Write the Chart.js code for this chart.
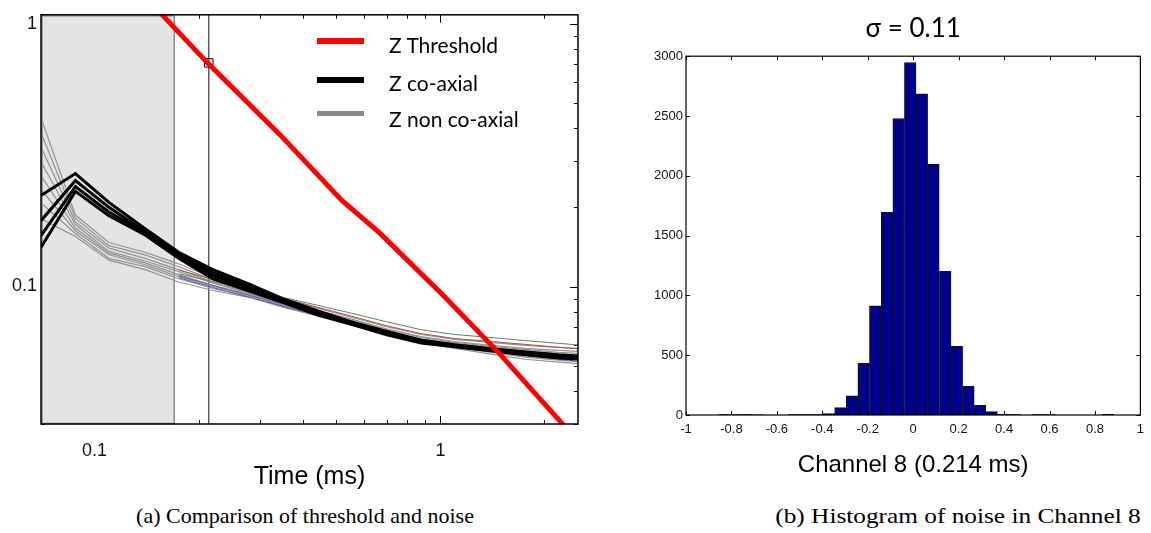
<!DOCTYPE html>
<html lang="en">
<head>
<meta charset="UTF-8">
<title>Threshold and noise</title>
<script src="https://cdn.jsdelivr.net/npm/chart.js"></script>
<style>
  body { margin: 0; width: 1151px; height: 533px; background: #fff; position: relative; overflow: hidden; }
  #left { position: absolute; left: 0; top: 0; }
  #right { position: absolute; left: 620px; top: 0; }
  .key { position: absolute; left: 317px; width: 47px; }
  .keytext { position: absolute; left: 389px; font-family: Lato, sans-serif; font-size: 21px; line-height: 24px; color: #000; white-space: nowrap; }
  .caption { position: absolute; top: 503px; font-family: "Liberation Serif", "Times New Roman", serif; font-size: 22px; line-height: 26px; text-align: center; color: #000; white-space: nowrap; }
</style>
</head>
<body>
<canvas id="left" width="600" height="495"></canvas>
<canvas id="right" width="531" height="483"></canvas>

<div class="key" style="top:38px;height:6px;background:#ff0000"></div>
<div class="key" style="top:77px;height:6px;background:#000"></div>
<div class="key" style="top:111px;height:5px;background:#888"></div>
<div class="keytext" style="top:33px">Z Threshold</div>
<div class="keytext" style="top:71px">Z co-axial</div>
<div class="keytext" style="top:107px">Z non co-axial</div>

<div class="caption" style="left:0;width:610px">(a) Comparison of threshold and noise</div>
<div class="caption" style="left:765px;width:386px;transform:scaleX(1.15)">(b) Histogram of noise in Channel 8</div>

<script>
// ---- (a) threshold vs noise, log-log ----
const times = [0.07, 0.088, 0.11, 0.14, 0.175, 0.22, 0.28, 0.35, 0.44, 0.55, 0.7, 0.88, 1.1, 1.4, 1.75, 2.2, 2.8];

const thresholdTimes = [0.15, 0.212, 0.343, 0.518, 0.667, 1.013, 1.48, 2.25, 2.4];
const thresholdZ = [1.15, 0.709, 0.379, 0.213, 0.160, 0.0933, 0.0557, 0.0301, 0.0273];

// co-axial channels
const coaxial = [
  [0.222, 0.269, 0.209, 0.166, 0.135, 0.116, 0.102, 0.090, 0.081, 0.0735, 0.0675, 0.0625, 0.060, 0.058, 0.0565, 0.055, 0.054],
  [0.178, 0.253, 0.200, 0.162, 0.132, 0.113, 0.0995, 0.0885, 0.080, 0.073, 0.067, 0.062, 0.0595, 0.0575, 0.056, 0.0545, 0.0535],
  [0.156, 0.240, 0.192, 0.160, 0.130, 0.110, 0.098, 0.088, 0.079, 0.0725, 0.066, 0.0615, 0.0595, 0.0572, 0.0555, 0.054, 0.053],
  [0.141, 0.230, 0.186, 0.157, 0.128, 0.107, 0.096, 0.087, 0.078, 0.072, 0.0655, 0.061, 0.059, 0.057, 0.055, 0.0535, 0.0525]
];

// non co-axial channels
const nonCoaxial = [
  [0.438, 0.187, 0.147, 0.135, 0.122, 0.108, 0.0974, 0.0895, 0.0828, 0.0766, 0.0703, 0.0657, 0.0629, 0.0613, 0.0597, 0.0587, 0.0577],
  [0.385, 0.182, 0.143, 0.132, 0.119, 0.106, 0.0958, 0.0879, 0.0814, 0.0753, 0.0691, 0.0645, 0.0618, 0.0597, 0.0582, 0.0572, 0.0562],
  [0.339, 0.176, 0.140, 0.128, 0.116, 0.104, 0.0950, 0.0872, 0.0807, 0.0746, 0.0685, 0.0640, 0.0613, 0.0592, 0.0577, 0.0562, 0.0553],
  [0.298, 0.172, 0.136, 0.125, 0.114, 0.103, 0.0942, 0.0864, 0.0800, 0.0740, 0.0679, 0.0634, 0.0608, 0.0587, 0.0567, 0.0553, 0.0543],
  [0.264, 0.167, 0.134, 0.123, 0.111, 0.101, 0.0933, 0.0857, 0.0793, 0.0734, 0.0674, 0.0629, 0.0603, 0.0577, 0.0557, 0.0543, 0.0534],
  [0.234, 0.163, 0.132, 0.121, 0.109, 0.100, 0.0926, 0.0849, 0.0786, 0.0728, 0.0668, 0.0623, 0.0592, 0.0567, 0.0548, 0.0534, 0.0520],
  [0.208, 0.159, 0.128, 0.119, 0.107, 0.0983, 0.0918, 0.0842, 0.0779, 0.0722, 0.0662, 0.0618, 0.0587, 0.0562, 0.0539, 0.0525, 0.0512],
  [0.181, 0.155, 0.126, 0.116, 0.104, 0.0966, 0.0910, 0.0835, 0.0773, 0.0715, 0.0657, 0.0613, 0.0582, 0.0553, 0.0529, 0.0516, 0.0503]
];

// a few non co-axial channels plotted in colour outside the shaded window
const colouredNames = ['green', 'red', 'blue', 'purple'];
const colouredColors = ['#4f8a5f', '#b04a4a', '#5a5ad0', '#8a5a9c'];
const coloured = [
  [null, null, null, null, 0.1118, 0.1044, 0.0974, 0.0910, 0.0849, 0.0793, 0.0734, 0.0685, 0.0657, 0.0640, 0.0623, 0.0608, 0.0592],
  [null, null, null, null, 0.1157, 0.1062, 0.0983, 0.0902, 0.0835, 0.0773, 0.0709, 0.0662, 0.0634, 0.0618, 0.0603, 0.0587, 0.0572],
  [null, null, null, null, 0.1080, 0.0991, 0.0910, 0.0842, 0.0779, 0.0722, 0.0662, 0.0618, 0.0587, 0.0567, 0.0548, 0.0529, 0.0512],
  [null, null, null, null, 0.1099, 0.1009, 0.0926, 0.0857, 0.0793, 0.0734, 0.0674, 0.0629, 0.0597, 0.0577, 0.0557, 0.0539, 0.0520]
];

const shadeFrom = 0.07, shadeTo = 0.17;   // early-time window
const markerTime = 0.214, markerZ = 0.709; // channel 8 time
const leftXRange = [0.07, 2.5], leftYRange = [0.03, 1.08];

// ---- (b) histogram ----
const binCenters = [-0.935, -0.883, -0.832, -0.781, -0.730, -0.679, -0.627, -0.576, -0.525, -0.474, -0.423, -0.371,
  -0.320, -0.269, -0.218, -0.167, -0.115, -0.064, -0.013, 0.038, 0.089, 0.141, 0.192, 0.243, 0.294, 0.345,
  0.397, 0.448, 0.499, 0.550, 0.601, 0.653, 0.704, 0.755, 0.806, 0.857, 0.909];
const binCounts = [0, 0, 3, 4, 3, 2, 0, 0, 3, 4, 4, 12,
  61, 161, 432, 913, 1694, 2479, 2947, 2685, 2095, 1201, 574, 240, 81, 28,
  6, 4, 0, 4, 3, 0, 0, 0, 0, 5, 0];
const sigmaText = 'σ = 0.11';

function pts(xs, ys) { return xs.map((x, i) => ({x: x, y: ys[i]})); }

// log tick kind: 2 = decade, 1 = 2..9 multiple, 0 = skip
function logKind(v) {
  const e = Math.floor(Math.log10(v) + 1e-9);
  const m = v / Math.pow(10, e);
  if (Math.abs(m - Math.round(m)) > 1e-6) return 0;
  return Math.abs(m - 1) < 1e-6 ? 2 : 1;
}
function near(a, b) { return Math.abs(a - b) < 1e-9; }

const leftSets = [];
leftSets.push({ data: pts(thresholdTimes, thresholdZ), borderColor: '#ff0000', borderWidth: 5 });
leftSets.push({ type: 'scatter', data: [{x: markerTime, y: markerZ}], pointStyle: 'rect', pointRadius: 6,
  borderColor: '#000', borderWidth: 1, backgroundColor: 'rgba(0,0,0,0)' });
coaxial.forEach(c => leftSets.push({ data: pts(times, c), borderColor: '#000', borderWidth: 3 }));
coloured.forEach((c, i) => leftSets.push({ label: colouredNames[i], data: pts(times, c), borderColor: colouredColors[i], borderWidth: 1 }));
nonCoaxial.forEach(c => leftSets.push({ data: pts(times, c), borderColor: '#939393', borderWidth: 1.2 }));
leftSets.push({ data: [{x: markerTime, y: leftYRange[0]}, {x: markerTime, y: leftYRange[1]}], borderColor: '#111', borderWidth: 1 });
leftSets.forEach(d => { d.clip = 0; d.pointRadius = d.pointRadius || 0; });

const leftDecor = {
  id: 'leftDecor',
  beforeDatasetsDraw(chart) {
    const {ctx, chartArea: a, scales: {x, y}} = chart;
    ctx.save();
    ctx.strokeStyle = '#000';
    ctx.lineWidth = 1;
    ctx.beginPath();
    x.ticks.forEach(t => {
      const k = logKind(t.value);
      if (!k) return;
      const px = Math.round(x.getPixelForValue(t.value)) + 0.5;
      const len = k === 2 ? 8 : 4;
      ctx.moveTo(px, a.bottom); ctx.lineTo(px, a.bottom - len);
      ctx.moveTo(px, a.top); ctx.lineTo(px, a.top + len);
    });
    y.ticks.forEach(t => {
      const k = logKind(t.value);
      if (!k) return;
      const py = Math.round(y.getPixelForValue(t.value)) + 0.5;
      const len = k === 2 ? 8 : 4;
      ctx.moveTo(a.left, py); ctx.lineTo(a.left + len, py);
      ctx.moveTo(a.right, py); ctx.lineTo(a.right - len, py);
    });
    ctx.stroke();
    const x0 = x.getPixelForValue(shadeFrom), x1 = x.getPixelForValue(shadeTo);
    ctx.fillStyle = '#e4e4e4';
    ctx.fillRect(x0, a.top, x1 - x0, a.bottom - a.top);
    ctx.strokeStyle = '#8a8a8a';
    ctx.lineWidth = 1.5;
    ctx.strokeRect(x0 + 1, a.top + 1, x1 - x0 - 1, a.bottom - a.top - 1.5);
    ctx.restore();
  },
  afterDatasetsDraw(chart) {
    const {ctx, chartArea: a} = chart;
    ctx.save();
    ctx.strokeStyle = '#000';
    ctx.lineWidth = 1.5;
    ctx.strokeRect(a.left, a.top, a.right - a.left, a.bottom - a.top);
    ctx.restore();
  }
};

new Chart(document.getElementById('left'), {
  type: 'line',
  data: { datasets: leftSets },
  options: {
    responsive: false,
    animation: false,
    devicePixelRatio: 1,
    layout: { padding: { top: 8, right: 22, left: 0, bottom: 0 } },
    plugins: { legend: { display: false }, tooltip: { enabled: false } },
    elements: { line: { tension: 0 } },
    scales: {
      x: {
        type: 'logarithmic', min: leftXRange[0], max: leftXRange[1],
        grid: { display: false, drawTicks: false }, border: { display: false },
        ticks: {
          autoSkip: false, maxRotation: 0, padding: 16, color: '#111',
          font: { family: 'Liberation Sans', size: 18 },
          callback: v => near(v, 0.1) ? '0.1' : near(v, 1) ? '1' : ''
        },
        title: { display: true, text: 'Time (ms)', color: '#000', font: { family: 'Liberation Sans', size: 25 }, padding: { top: 0, bottom: 3 } },
        afterFit: s => { s.height = 71; }
      },
      y: {
        type: 'logarithmic', min: leftYRange[0], max: leftYRange[1],
        grid: { display: false, drawTicks: false }, border: { display: false },
        ticks: {
          autoSkip: false, padding: 4, color: '#111',
          font: { family: 'Liberation Sans', size: 18 },
          callback: v => near(v, 0.1) ? '0.1' : near(v, 1) ? '1' : ''
        },
        afterFit: s => { s.width = 41; }
      }
    }
  },
  plugins: [leftDecor]
});

// ---- (b) ----
const rightDecor = {
  id: 'rightDecor',
  afterDatasetsDraw(chart) {
    const {ctx, chartArea: a, scales: {x, y}} = chart;
    ctx.save();
    ctx.strokeStyle = '#000';
    ctx.lineWidth = 1;
    ctx.beginPath();
    x.ticks.forEach(t => {
      const px = Math.round(x.getPixelForValue(t.value)) + 0.5;
      ctx.moveTo(px, a.bottom); ctx.lineTo(px, a.bottom - 4);
      ctx.moveTo(px, a.top); ctx.lineTo(px, a.top + 4);
    });
    y.ticks.forEach(t => {
      const py = Math.round(y.getPixelForValue(t.value)) + 0.5;
      ctx.moveTo(a.left, py); ctx.lineTo(a.left + 4, py);
      ctx.moveTo(a.right, py); ctx.lineTo(a.right - 4, py);
    });
    ctx.stroke();
    ctx.lineWidth = 1.2;
    ctx.strokeRect(a.left, a.top, a.right - a.left, a.bottom - a.top);
    ctx.restore();
  }
};

new Chart(document.getElementById('right'), {
  type: 'bar',
  data: {
    datasets: [{
      data: pts(binCenters, binCounts),
      backgroundColor: '#00008c',
      borderColor: '#111',
      borderWidth: 1,
      barPercentage: 1,
      categoryPercentage: 1
    }]
  },
  options: {
    responsive: false,
    animation: false,
    devicePixelRatio: 1,
    layout: { padding: { top: 0, right: 1, left: 0, bottom: 0 } },
    plugins: {
      legend: { display: false }, tooltip: { enabled: false },
      title: { display: true, fullSize: false, text: sigmaText, color: '#000', font: { family: 'Lato', size: 26, weight: 'normal' }, padding: { top: 13, bottom: 12 } }
    },
    scales: {
      x: {
        type: 'linear', min: -1, max: 1, offset: false,
        grid: { display: false, drawTicks: false }, border: { display: false },
        ticks: {
          stepSize: 0.2, autoSkip: false, maxRotation: 0, padding: 7, color: '#111',
          font: { family: 'Liberation Sans', size: 13 },
          callback: v => Math.abs(v) < 1e-9 ? '0' : String(+v.toFixed(1))
        },
        title: { display: true, text: 'Channel 8 (0.214 ms)', color: '#000', font: { family: 'Liberation Sans', size: 24 }, padding: { top: 0, bottom: 3 } },
        afterFit: s => { s.height = 68; }
      },
      y: {
        min: 0, max: 3000,
        grid: { display: false, drawTicks: false }, border: { display: false },
        ticks: {
          stepSize: 500, padding: 3, color: '#111',
          font: { family: 'Liberation Sans', size: 13 },
          callback: v => String(v)
        },
        afterFit: s => { s.width = 66; }
      }
    }
  },
  plugins: [rightDecor]
});
</script>
</body>
</html>
